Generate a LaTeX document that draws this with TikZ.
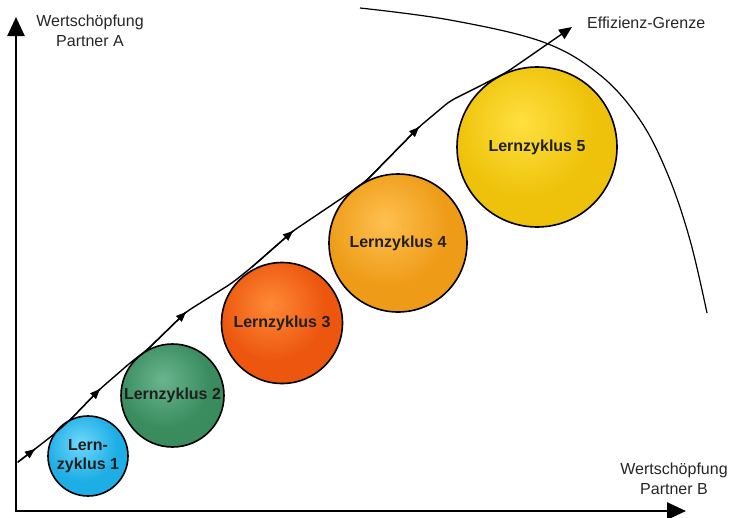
\documentclass[tikz,border=0pt]{standalone}
\usepackage{fontspec}
\setmainfont{Liberation Sans}
\usetikzlibrary{arrows.meta,decorations.markings}
\definecolor{cAl}{HTML}{70D8FA}\definecolor{cAm}{HTML}{1EAEE6}\definecolor{cAd}{HTML}{0E7CBE}
\definecolor{cBl}{HTML}{6AB58E}\definecolor{cBm}{HTML}{3A8C5F}\definecolor{cBd}{HTML}{1C5A38}
\definecolor{cCl}{HTML}{FF8A36}\definecolor{cCm}{HTML}{EC560E}\definecolor{cCd}{HTML}{B83804}
\definecolor{cDl}{HTML}{FFC050}\definecolor{cDm}{HTML}{EE9C18}\definecolor{cDd}{HTML}{C07206}
\definecolor{cEl}{HTML}{FFE040}\definecolor{cEm}{HTML}{EEC20A}\definecolor{cEd}{HTML}{B88A04}
\pgfdeclareradialshading{ballA}{\pgfpoint{-5bp}{8bp}}{color(0bp)=(cAl); color(22bp)=(cAm); color(42bp)=(cAm); color(60bp)=(cAd); color(100bp)=(cAd)}
\pgfdeclareradialshading{ballB}{\pgfpoint{-5bp}{8bp}}{color(0bp)=(cBl); color(22bp)=(cBm); color(42bp)=(cBm); color(60bp)=(cBd); color(100bp)=(cBd)}
\pgfdeclareradialshading{ballC}{\pgfpoint{-5bp}{8bp}}{color(0bp)=(cCl); color(22bp)=(cCm); color(42bp)=(cCm); color(60bp)=(cCd); color(100bp)=(cCd)}
\pgfdeclareradialshading{ballD}{\pgfpoint{-5bp}{8bp}}{color(0bp)=(cDl); color(22bp)=(cDm); color(42bp)=(cDm); color(60bp)=(cDd); color(100bp)=(cDd)}
\pgfdeclareradialshading{ballE}{\pgfpoint{-5bp}{8bp}}{color(0bp)=(cEl); color(22bp)=(cEm); color(42bp)=(cEm); color(60bp)=(cEd); color(100bp)=(cEd)}
\tikzset{
  ball/.style={draw=black, line width=1.6pt, circle, inner sep=0pt, minimum size=#1,
    font=\fontsize{16}{19}\selectfont\bfseries, text=black!88, align=center},
  axis/.style={line width=2.6pt, -{Triangle[length=19pt,width=17pt]}},
  flow/.style={line width=1.4pt, line join=round, line cap=round},
  mk/.style={postaction={decorate}, decoration={markings,
    mark=at position #1 with {\arrow{Triangle[length=10pt,width=8pt]}}}},
  lbl/.style={font=\fontsize{16}{20}\selectfont, text=black!85, align=center, inner sep=0pt},
}
\begin{document}
\begin{tikzpicture}[x=1pt,y=-1pt]
\useasboundingbox (0,0) rectangle (730,517);
% axes
\coordinate (o) at (16,511);
\coordinate (ytip) at (16,17);
\coordinate (xtip) at (686,511);
\draw[axis] ([yshift=-1.3pt]o) -- (ytip);
\draw[axis] ([xshift=-1.3pt]o) -- (xtip);
\node[lbl] (la) at (90,31) {Wertschöpfung\\Partner A};
\node[lbl] (lb) at (674,479) {Wertschöpfung\\Partner B};
\node[lbl, anchor=base west] (le) at (587,28) {Effizienz-Grenze};
% efficiency frontier
\draw[line width=1.2pt] plot[smooth, tension=0.6] coordinates
  {(360,8) (450,20) (543,42) (600,75) (640,120) (668,175) (690,240) (707,313)};
% balls
\node[ball=80pt, shading=ballA] (c1) at (88,456) {Lern-\\zyklus 1};
\node[ball=103pt, shading=ballB] (c2) at (172.5,395.5) {Lernzyklus 2};
\node[ball=121pt, shading=ballC] (c3) at (282,323) {Lernzyklus 3};
\node[ball=138pt, shading=ballD] (c4) at (398,243) {Lernzyklus 4};
\node[ball=160pt, shading=ballE] (c5) at (537,147) {Lernzyklus 5};
% learning path
\coordinate (p0) at (18,462);
\coordinate (m1) at (35,449);
\coordinate (p1) at (53,435);
\coordinate (p2) at (70,420);
\coordinate (m2) at (100,389);
\coordinate (p3) at (130,363);
\coordinate (p4) at (148,349);
\coordinate (m3) at (186,312);
\coordinate (p5) at (232,283);
\coordinate (p6) at (252,267);
\coordinate (m4) at (293,231);
\coordinate (p7) at (345,196);
\coordinate (p8) at (367,180);
\coordinate (m5) at (419,127);
\coordinate (p9) at (450,101);
\coordinate (p10) at (480,86);
\coordinate (p11) at (507,72);
\coordinate (p12) at (572,27);
\draw[flow, rounded corners=6pt, -{Triangle[length=13pt,width=11pt]}] (p0) -- (m1) -- (p1) -- (p2) -- (m2) -- (p3) -- (p4) -- (m3) -- (p5) -- (p6) -- (m4) -- (p7) -- (p8) -- (m5) -- (p9) -- (p10) -- (p11) -- (p12);
\draw[flow, mk=1] (p0) -- (m1);
\draw[flow, mk=1] (p2) -- (m2);
\draw[flow, mk=1] (p4) -- (m3);
\draw[flow, mk=1] (p6) -- (m4);
\draw[flow, mk=1] (p8) -- (m5);
\end{tikzpicture}
\end{document}
